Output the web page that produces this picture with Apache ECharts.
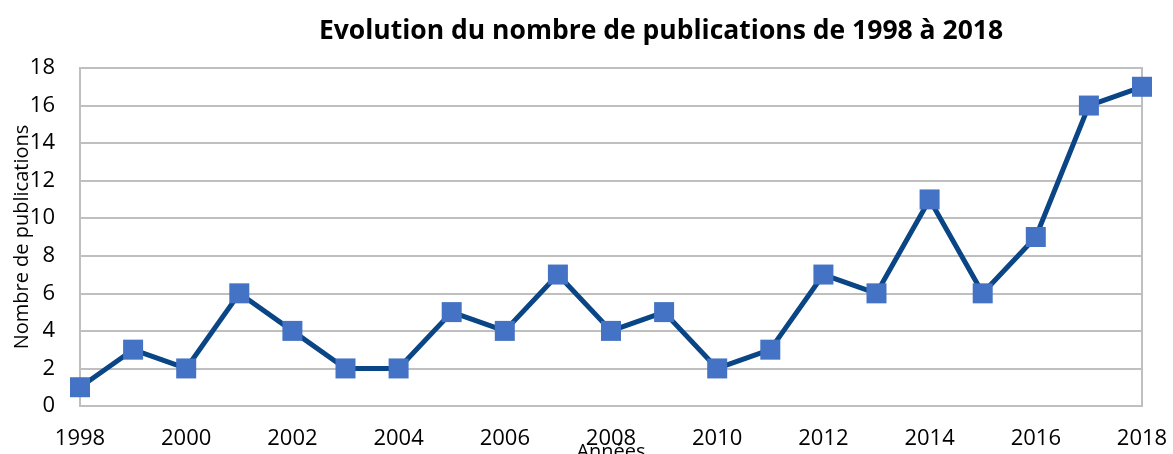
<!DOCTYPE html>
<html>
<head>
<meta charset="utf-8">
<script src="https://cdn.jsdelivr.net/npm/echarts@6/dist/echarts.min.js"></script>
<style>
  html, body { margin: 0; padding: 0; background: #fff; }
  #chart { width: 1173px; height: 454px; }
</style>
</head>
<body>
<div id="chart"></div>
<script>
const years = [1998, 1999, 2000, 2001, 2002, 2003, 2004, 2005, 2006, 2007, 2008,
  2009, 2010, 2011, 2012, 2013, 2014, 2015, 2016, 2017, 2018];
const publications = [1, 3, 2, 6, 4, 2, 2, 5, 4, 7, 4, 5, 2, 3, 7, 6, 11, 6, 9, 16, 17];

const chart = echarts.init(document.getElementById('chart'));
const font = 'Open Sans, Liberation Sans, sans-serif';

chart.setOption({
  animation: false,
  title: {
    text: 'Evolution du nombre de publications de 1998 à 2018',
    left: 656,
    textAlign: 'center',
    top: 13,
    textStyle: { fontFamily: font, fontSize: 26.5, fontWeight: 'bold', color: '#000' }
  },
  grid: {
    left: 80, right: 31, top: 68, bottom: 48,
    outerBoundsMode: 'none',
    containLabel: false,
    show: true, borderColor: '#BFBFBF', borderWidth: 2
  },
  xAxis: {
    type: 'value',
    min: 1998, max: 2018, interval: 2,
    name: 'Années',
    nameLocation: 'middle',
    nameGap: 36,
    nameMoveOverlap: false,
    nameTextStyle: { fontFamily: font, fontSize: 20, color: '#000', verticalAlign: 'top' },
    axisLine: { show: false },
    axisTick: { show: false },
    splitLine: { show: false },
    axisLabel: {
      fontFamily: font, fontSize: 22, color: '#000', margin: 22,
      formatter: v => String(v)
    }
  },
  yAxis: {
    type: 'value',
    min: 0, max: 18, interval: 2,
    name: 'Nombre de publications',
    nameLocation: 'middle',
    nameGap: 48,
    nameMoveOverlap: false,
    nameTextStyle: { fontFamily: font, fontSize: 20, color: '#000' },
    axisLine: { show: false },
    axisTick: { show: false },
    splitLine: { lineStyle: { color: '#BFBFBF', width: 2 } },
    axisLabel: { fontFamily: font, fontSize: 22, color: '#000', margin: 25 }
  },
  series: [{
    type: 'line',
    data: years.map((y, i) => [y, publications[i]]),
    symbol: 'rect',
    symbolSize: 20,
    lineStyle: { color: '#0A4585', width: 5 },
    itemStyle: { color: '#4472C4' }
  }]
});
</script>
</body>
</html>
